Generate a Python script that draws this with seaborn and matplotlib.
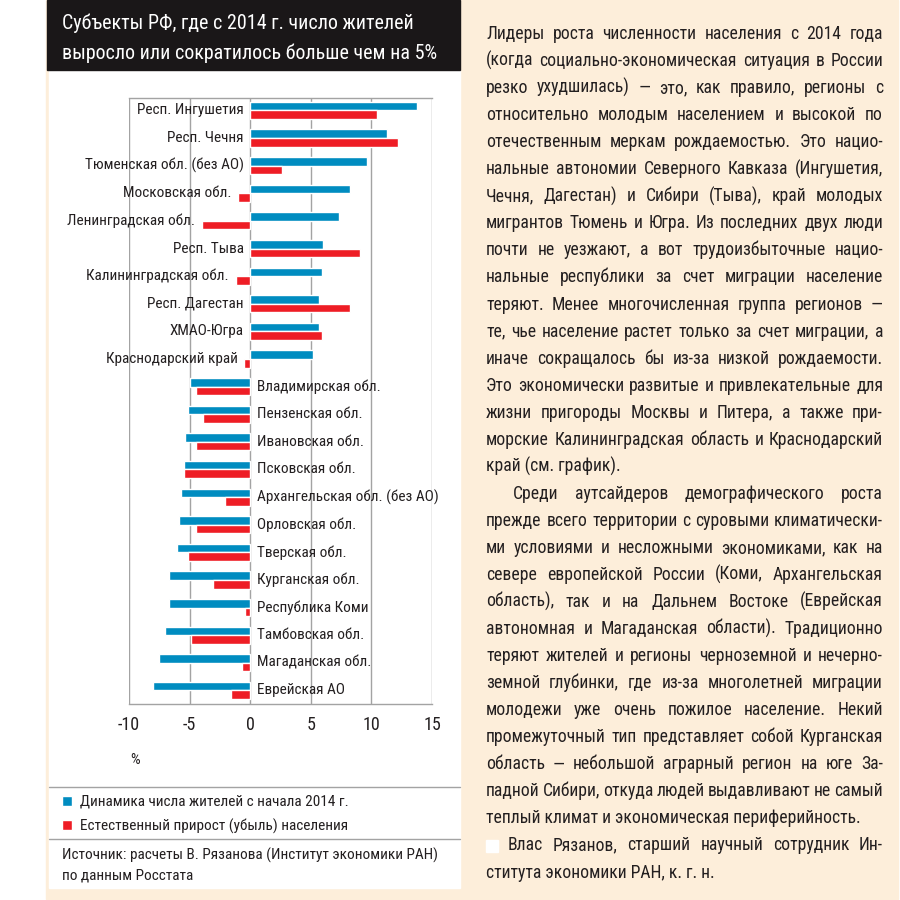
import os
import matplotlib
matplotlib.use('Agg')
import matplotlib.pyplot as plt
from matplotlib import font_manager
from matplotlib.patches import Rectangle
from matplotlib.lines import Line2D
import pandas as pd
import seaborn as sns

# --- данные (%) ---
regions = [
    'Респ. Ингушетия', 'Респ. Чечня', 'Тюменская обл. (без АО)', 'Московская обл.',
    'Ленинградская обл.', 'Респ. Тыва', 'Калининградская обл.', 'Респ. Дагестан',
    'ХМАО-Югра', 'Краснодарский край',
    'Владимирская обл.', 'Пензенская обл.', 'Ивановская обл.', 'Псковская обл.',
    'Архангельская обл. (без АО)', 'Орловская обл.', 'Тверская обл.', 'Курганская обл.',
    'Республика Коми', 'Тамбовская обл.', 'Магаданская обл.', 'Еврейская АО',
]
growth = [13.8, 11.3, 9.6, 8.2, 7.35, 6.0, 5.9, 5.7, 5.7, 5.2,
          -5.0, -5.1, -5.35, -5.5, -5.75, -5.9, -6.0, -6.7, -6.7, -7.0, -7.5, -8.05]
natural = [10.5, 12.2, 2.6, -1.0, -4.0, 9.1, -1.2, 8.25, 5.9, -0.5,
           -4.5, -3.9, -4.5, -5.5, -2.1, -4.5, -5.1, -3.1, -0.45, -4.9, -0.7, -1.6]
series_names = ['Динамика числа жителей с начала 2014 г.',
                'Естественный прирост (убыль) населения']
x_ticks = [-10, -5, 0, 5, 10, 15]

title_lines = ['Субъекты РФ, где с 2014 г. число жителей',
               'выросло или сократилось больше чем на 5%']
source_lines = ['Источник: расчеты В. Рязанова (Институт экономики РАН)',
                'по данным Росстата']

body_lines = [
    'Лидеры роста численности населения с 2014 года',
    '(когда социально-экономическая ситуация в России',
    'резко ухудшилась) — это, как правило, регионы с',
    'относительно молодым населением и высокой по',
    'отечественным меркам рождаемостью. Это нацио-',
    'нальные автономии Северного Кавказа (Ингушетия,',
    'Чечня, Дагестан) и Сибири (Тыва), край молодых',
    'мигрантов Тюмень и Югра. Из последних двух люди',
    'почти не уезжают, а вот трудоизбыточные нацио-',
    'нальные республики за счет миграции население',
    'теряют. Менее многочисленная группа регионов —',
    'те, чье население растет только за счет миграции, а',
    'иначе сокращалось бы из-за низкой рождаемости.',
    'Это экономически развитые и привлекательные для',
    'жизни пригороды Москвы и Питера, а также при-',
    'морские Калининградская область и Краснодарский',
    'край (см. график).',
    'Среди аутсайдеров демографического роста',
    'прежде всего территории с суровыми климатически-',
    'ми условиями и несложными экономиками, как на',
    'севере европейской России (Коми, Архангельская',
    'область), так и на Дальнем Востоке (Еврейская',
    'автономная и Магаданская области). Традиционно',
    'теряют жителей и регионы черноземной и нечерно-',
    'земной глубинки, где из-за многолетней миграции',
    'молодежи уже очень пожилое население. Некий',
    'промежуточный тип представляет собой Курганская',
    'область — небольшой аграрный регион на юге За-',
    'падной Сибири, откуда людей выдавливают не самый',
    'теплый климат и экономическая периферийность.',
    'Влас Рязанов, старший научный сотрудник Ин-',
    'ститута экономики РАН, к. г. н.',
]
para_last = {16, 29, 31}
indent_line = 17
sign_line = 30

# --- цвета ---
BLUE = '#008CC0'
RED = '#EE1D25'
CREAM = '#FDEEDA'
GRID = '#A3A3A3'
TXT = '#231F20'


def pick_font():
    # узкий шрифт, если есть; иначе обычный Roboto
    cands = [('Liberation Sans Narrow', 'normal'), ('Roboto Condensed', 'normal'),
             ('Noto Sans Condensed', 'normal'), ('Open Sans Condensed', 'normal'),
             ('Roboto', 'condensed'), ('Noto Sans', 'condensed'),
             ('Open Sans', 'condensed'), ('DejaVu Sans', 'condensed')]
    for fam, st in cands:
        try:
            path = font_manager.findfont(
                font_manager.FontProperties(family=fam, stretch=st),
                fallback_to_default=False)
        except ValueError:
            continue
        name = os.path.basename(path)
        if st == 'normal' or 'ondensed' in name or 'Narrow' in name:
            return fam, st
    return 'Roboto', 'normal'


sns.set_theme(style='white')
FONT, STRETCH = pick_font()
plt.rcParams['font.family'] = [FONT, 'DejaVu Sans']
plt.rcParams['font.stretch'] = STRETCH
plt.rcParams['axes.unicode_minus'] = False

W = H = 900
fig = plt.figure(figsize=(9, 9), dpi=100, facecolor='white')
renderer = fig.canvas.get_renderer()


def fx(px):
    return px / W


def fy(py):
    return 1 - py / H


def text_w(s, size):
    t = fig.text(0, 0, s, fontsize=size)
    w = t.get_window_extent(renderer).width
    t.remove()
    return w


def fit_size(s, target_px, max_size):
    return min(max_size, 10 * target_px / text_w(s, 10))


TITLE_FS = fit_size(title_lines[1], 375, 16)
LABEL_FS = fit_size('Архангельская обл. (без АО)', 184, 11)
LEG_FS = fit_size(series_names[0], 280, 11)
SRC_FS = fit_size(source_lines[0], 382, 11)
TICK_FS = min(13, LABEL_FS * 1.2)

# подложки (под осями)
fig.patches.append(Rectangle((fx(46), fy(899)), fx(898) - fx(46), fy(0) - fy(899),
                             transform=fig.transFigure, color=CREAM, zorder=-3))
fig.patches.append(Rectangle((fx(49), fy(888)), fx(460) - fx(49), fy(70) - fy(888),
                             transform=fig.transFigure, color='white', zorder=-2))
fig.patches.append(Rectangle((fx(47), fy(70)), fx(460) - fx(47), fy(0) - fy(70),
                             transform=fig.transFigure, color='#1A1718', zorder=-2))

# заголовок
fig.text(fx(62), fy(29), title_lines[0], color='white', fontsize=TITLE_FS, va='baseline')
fig.text(fx(62), fy(59), title_lines[1], color='white', fontsize=TITLE_FS, va='baseline')

# --- график ---
df = pd.DataFrame({
    'region': regions * 2,
    'value': growth + natural,
    'series': [series_names[0]] * len(regions) + [series_names[1]] * len(regions),
})

ax = fig.add_axes([fx(129), fy(704), fx(432) - fx(129), fy(98) - fy(704)])
ax.set_facecolor('white')
sns.barplot(data=df, x='value', y='region', hue='series', order=regions,
            hue_order=series_names, palette=[BLUE, RED], orient='h',
            width=0.62, saturation=1, errorbar=None, ax=ax)

ax.set_xlim(-10, 15)
ax.set_ylim(21.49, -0.45)
ax.set_xticks(x_ticks)
ax.set_xticklabels([str(t) for t in x_ticks], fontsize=TICK_FS, color=TXT)
ax.tick_params(axis='x', length=0, pad=9)
ax.set_yticks([])
ax.set_xlabel('')
ax.set_ylabel('')
ax.set_axisbelow(True)
ax.grid(axis='x', color=GRID, lw=1)
for side in ['left', 'right']:
    ax.spines[side].set_visible(False)
for side in ['top', 'bottom']:
    ax.spines[side].set_color(GRID)
    ax.spines[side].set_linewidth(1)

# подписи регионов
for i, (reg, g, n) in enumerate(zip(regions, growth, natural)):
    if g > 0:
        ax.text(min(0, n) - 0.55, i, reg, ha='right', va='center',
                fontsize=LABEL_FS, color=TXT)
    else:
        ax.text(max(0, n) + 0.58, i, reg, ha='left', va='center',
                fontsize=LABEL_FS, color=TXT)

fig.text(fx(135), fy(760), '%', ha='center', va='center', fontsize=LEG_FS, color=TXT)

# легенда
sns.move_legend(ax, 'upper left', bbox_to_anchor=(fx(62), fy(795)),
                bbox_transform=fig.transFigure, frameon=False, title=None,
                fontsize=LEG_FS, borderpad=0, borderaxespad=0, handlelength=0.65,
                handleheight=0.65, handletextpad=0.55, labelspacing=0.62)
for t in ax.get_legend().get_texts():
    t.set_color(TXT)

# разделители
for yy in [787, 839]:
    fig.add_artist(Line2D([fx(49), fx(460)], [fy(yy), fy(yy)], color=GRID, lw=1))

fig.text(fx(62), fy(860), source_lines[0], fontsize=SRC_FS, color=TXT, va='baseline')
fig.text(fx(62), fy(879), source_lines[1], fontsize=SRC_FS, color=TXT, va='baseline')

# --- текст справа, по ширине ---
def line_geom(i):
    x0 = 486
    if i == indent_line:
        x0 = 513
    if i == sign_line:
        x0 = 508
    return x0, 883


# размер шрифта: самая плотная строка должна поместиться
scale = 100.0
for i, line in enumerate(body_lines):
    if i in para_last:
        continue
    x0, x1 = line_geom(i)
    words = line.split(' ')
    natural_w = sum(text_w(w, 10) for w in words) + (len(words) - 1) * 2.5
    scale = min(scale, (x1 - x0) / natural_w)
BODY_FS = min(13.5, 10 * scale)


def put_line(text, y_px, x0, x1, justify):
    if not justify:
        fig.text(fx(x0), fy(y_px), text, fontsize=BODY_FS, color=TXT, va='baseline')
        return
    words = text.split(' ')
    items = [fig.text(0, fy(y_px), w, fontsize=BODY_FS, color=TXT, va='baseline')
             for w in words]
    widths = [t.get_window_extent(renderer).width for t in items]
    gap = (x1 - x0 - sum(widths)) / max(len(words) - 1, 1)
    x = x0
    for t, w in zip(items, widths):
        t.set_x(fx(x))
        x += w + gap


for i, line in enumerate(body_lines):
    y_base = 39 + i * 27.05
    x0, x1 = line_geom(i)
    if i == sign_line:
        fig.patches.append(Rectangle((fx(486), fy(852)), fx(12), fy(840) - fy(852),
                                     transform=fig.transFigure, color='white'))
    put_line(line, y_base, x0, x1, i not in para_last)

fig.savefig('out.png', dpi=100, facecolor='white')
